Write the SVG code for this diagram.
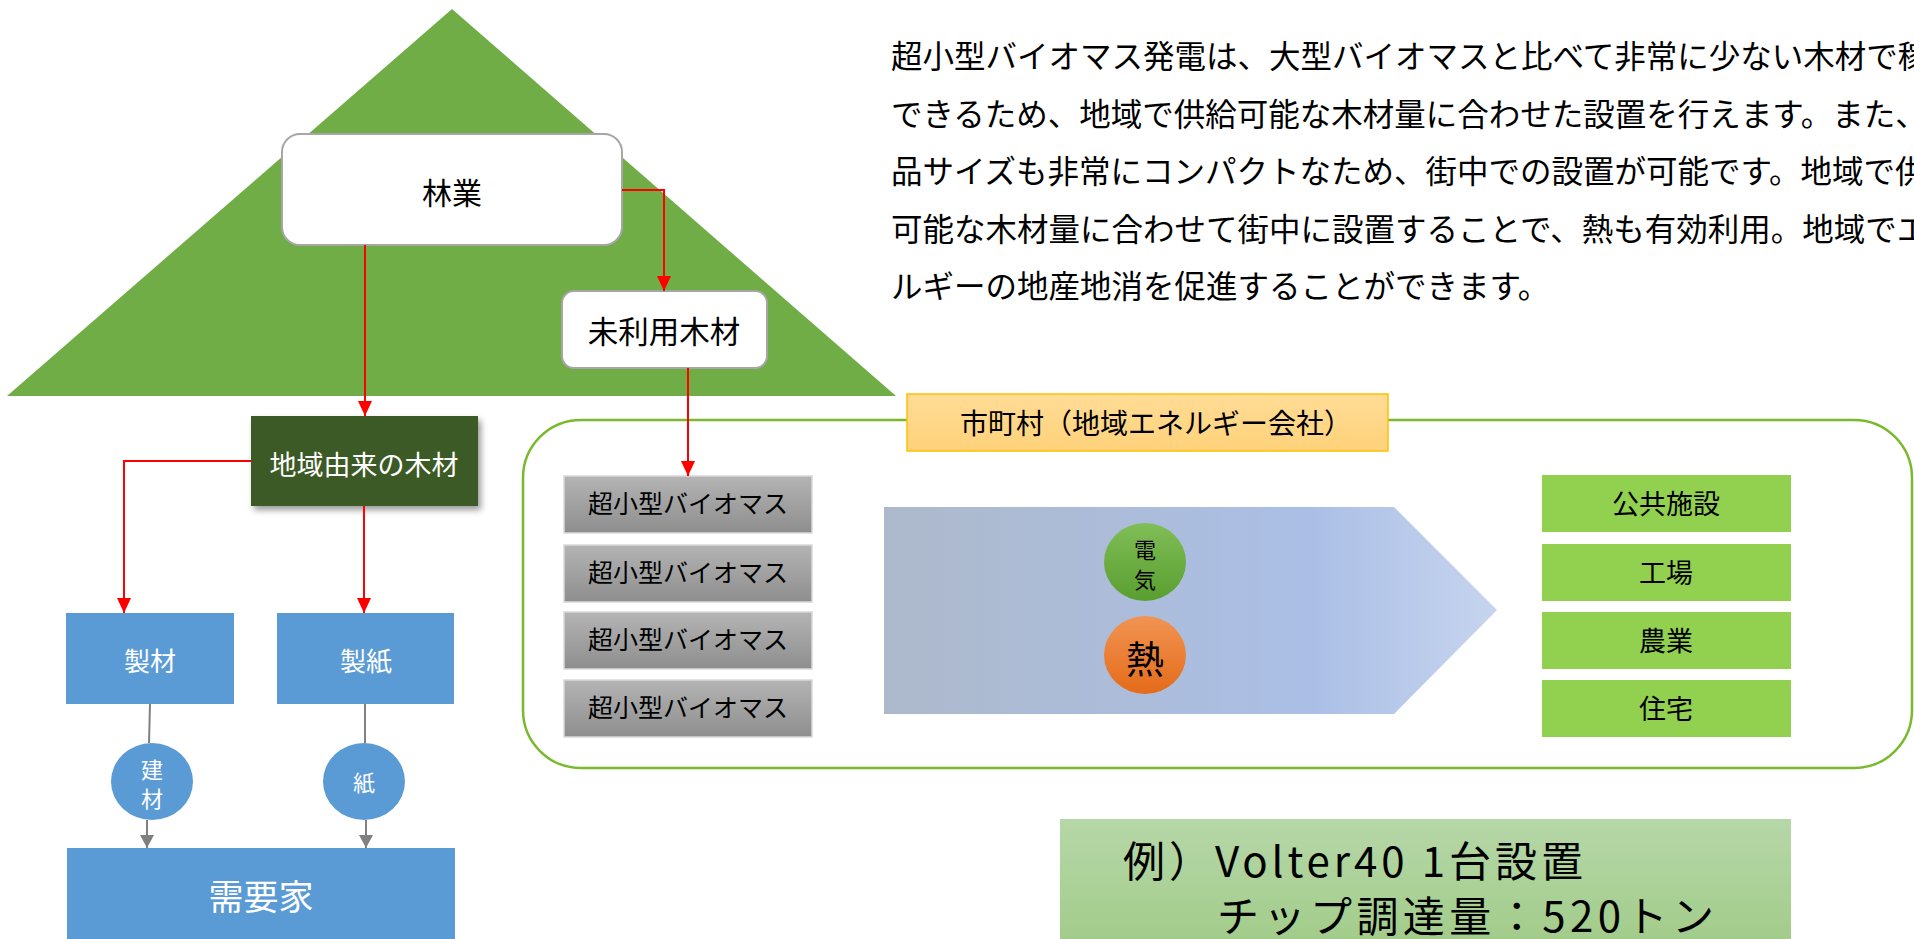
<svg xmlns="http://www.w3.org/2000/svg" width="1914" height="939" viewBox="0 0 1914 939">
<defs>
<style>
text{font-family:"Noto Sans CJK JP","Noto Sans",sans-serif;}
.blk{fill:#000;}
.wht{fill:#fff;}
.red{fill:none;stroke:#FF0000;stroke-width:2;}
.gry{fill:none;stroke:#808080;stroke-width:2;}
.bio{fill:url(#gBio);stroke:#D9D9D9;stroke-width:1.5;}
.out{fill:#92D050;}
.blue{fill:#5B9BD5;}
</style>
<marker id="aRed" markerUnits="userSpaceOnUse" markerWidth="15" markerHeight="14" refX="15" refY="7" orient="auto"><path d="M0,0 L15,7 L0,14 z" fill="#FF0000"/></marker>
<marker id="aGry" markerUnits="userSpaceOnUse" markerWidth="13" markerHeight="14" refX="13" refY="7" orient="auto"><path d="M0,0 L13,7 L0,14 z" fill="#808080"/></marker>
<linearGradient id="gBio" x1="0" y1="0" x2="0" y2="1"><stop offset="0" stop-color="#B4B4B4"/><stop offset="1" stop-color="#8E8E8E"/></linearGradient>
<linearGradient id="gArrow" x1="0" y1="0" x2="1" y2="0"><stop offset="0" stop-color="#ADB9CB"/><stop offset="0.7" stop-color="#ABBFE6"/><stop offset="1" stop-color="#C6D4EE"/></linearGradient>
<linearGradient id="gElec" x1="0" y1="0" x2="0" y2="1"><stop offset="0" stop-color="#80BE57"/><stop offset="1" stop-color="#5A9E2F"/></linearGradient>
<linearGradient id="gHeat" x1="0" y1="0" x2="0" y2="1"><stop offset="0" stop-color="#F19453"/><stop offset="1" stop-color="#E46B19"/></linearGradient>
<linearGradient id="gLabel" x1="0" y1="0" x2="0" y2="1"><stop offset="0" stop-color="#FFDC96"/><stop offset="1" stop-color="#FFD27A"/></linearGradient>
<linearGradient id="gEx" x1="0" y1="0" x2="0" y2="1"><stop offset="0" stop-color="#B6D7A8"/><stop offset="1" stop-color="#A2CC8A"/></linearGradient>
<filter id="shadow" x="-10%" y="-10%" width="130%" height="140%"><feDropShadow dx="3" dy="4" stdDeviation="3" flood-color="#000" flood-opacity="0.4"/></filter>
</defs>

<g id="forest-triangle"><polygon points="452,9 896,396 7,396" fill="#70AD47"/></g>

<g id="paragraph" class="blk" font-size="31.5">
<text x="891" y="68">超小型バイオマス発電は、大型バイオマスと比べて非常に少ない木材で稼</text>
<text x="891" y="125.5">できるため、地域で供給可能な木材量に合わせた設置を行えます。また、</text>
<text x="891" y="183">品サイズも非常にコンパクトなため、街中での設置が可能です。地域で供</text>
<text x="891" y="240.5">可能な木材量に合わせて街中に設置することで、熱も有効利用。地域でエ</text>
<text x="891" y="298">ルギーの地産地消を促進することができます。</text>
</g>

<g id="municipality-container"><rect x="523" y="420" width="1389" height="348" rx="58" ry="58" fill="none" stroke="#7AB92E" stroke-width="2.5"/></g>

<g id="ringyo"><rect x="282" y="134" width="340" height="111" rx="18" ry="18" fill="#fff" stroke="#A6A6A6" stroke-width="2"/><text x="452" y="204" font-size="30" text-anchor="middle" class="blk">林業</text></g>

<g id="miriyou"><rect x="562" y="291" width="205" height="77" rx="12" ry="12" fill="#fff" stroke="#A6A6A6" stroke-width="2"/><text x="664" y="343" font-size="30.5" text-anchor="middle" class="blk">未利用木材</text></g>

<g id="chiiki-mokuzai"><rect x="251" y="416" width="227" height="90" fill="#3A5A26" filter="url(#shadow)"/><text x="364" y="475" font-size="27" text-anchor="middle" class="wht">地域由来の木材</text></g>

<g id="seizai"><rect x="66" y="613" width="168" height="91" class="blue"/><text x="150" y="671" font-size="26" text-anchor="middle" class="wht">製材</text></g>
<g id="seishi"><rect x="277" y="613" width="177" height="91" class="blue"/><text x="366" y="671" font-size="26" text-anchor="middle" class="wht">製紙</text></g>

<g id="kenzai"><ellipse cx="152" cy="781.5" rx="41" ry="38.5" class="blue"/><text x="152" y="778" font-size="22" text-anchor="middle" class="wht">建</text><text x="152" y="807" font-size="22" text-anchor="middle" class="wht">材</text></g>
<g id="kami"><ellipse cx="364" cy="781.5" rx="41" ry="38.5" class="blue"/><text x="364" y="791" font-size="22" text-anchor="middle" class="wht">紙</text></g>

<g id="juyouka"><rect x="67" y="848" width="388" height="96" class="blue"/><text x="261" y="910" font-size="35" text-anchor="middle" class="wht">需要家</text></g>

<g id="label-municipality"><rect x="907" y="394" width="481" height="57" fill="url(#gLabel)" stroke="#FFC000" stroke-width="1.5"/><text x="1156" y="434" font-size="28" text-anchor="middle" class="blk">市町村（地域エネルギー会社）</text></g>

<g id="biomass-1"><rect x="564" y="476" width="248" height="57" class="bio"/><text x="688" y="513" font-size="25" text-anchor="middle" class="blk">超小型バイオマス</text></g>
<g id="biomass-2"><rect x="564" y="545" width="248" height="57" class="bio"/><text x="688" y="582" font-size="25" text-anchor="middle" class="blk">超小型バイオマス</text></g>
<g id="biomass-3"><rect x="564" y="612" width="248" height="57" class="bio"/><text x="688" y="649" font-size="25" text-anchor="middle" class="blk">超小型バイオマス</text></g>
<g id="biomass-4"><rect x="564" y="680" width="248" height="57" class="bio"/><text x="688" y="717" font-size="25" text-anchor="middle" class="blk">超小型バイオマス</text></g>

<g id="energy-arrow"><polygon points="884,507 1394,507 1497,610 1394,714 884,714" fill="url(#gArrow)"/></g>

<g id="denki"><ellipse cx="1145" cy="562" rx="41" ry="39" fill="url(#gElec)"/><text x="1145" y="558" font-size="22" text-anchor="middle" class="blk">電</text><text x="1145" y="588" font-size="22" text-anchor="middle" class="blk">気</text></g>
<g id="netsu"><ellipse cx="1145" cy="655" rx="41" ry="39" fill="url(#gHeat)"/><text x="1145" y="673" font-size="38" text-anchor="middle" class="blk">熱</text></g>

<g id="out-public"><rect x="1542" y="475" width="249" height="57" class="out"/><text x="1666" y="514" font-size="27" text-anchor="middle" class="blk">公共施設</text></g>
<g id="out-factory"><rect x="1542" y="544" width="249" height="57" class="out"/><text x="1666" y="583" font-size="27" text-anchor="middle" class="blk">工場</text></g>
<g id="out-agri"><rect x="1542" y="612" width="249" height="57" class="out"/><text x="1666" y="651" font-size="27" text-anchor="middle" class="blk">農業</text></g>
<g id="out-house"><rect x="1542" y="680" width="249" height="57" class="out"/><text x="1666" y="719" font-size="27" text-anchor="middle" class="blk">住宅</text></g>

<g id="example"><rect x="1060" y="819" width="731" height="125" fill="url(#gEx)"/><text x="1123" y="877" font-size="42" textLength="460" lengthAdjust="spacing" class="blk">例）Volter40 1台設置</text><text x="1217" y="932" font-size="42" textLength="497" lengthAdjust="spacing" class="blk">チップ調達量：520トン</text></g>

<g id="connectors">
<path class="red" d="M365,245 V416" marker-end="url(#aRed)"/>
<path class="red" d="M622,190 H664 V291" marker-end="url(#aRed)"/>
<path class="red" d="M688,368 V476" marker-end="url(#aRed)"/>
<path class="red" d="M251,461 H124 V613" marker-end="url(#aRed)"/>
<path class="red" d="M364,506 V613" marker-end="url(#aRed)"/>
<path class="gry" d="M150,704 L149,743"/>
<path class="gry" d="M147,820 V848" marker-end="url(#aGry)"/>
<path class="gry" d="M365,704 V743"/>
<path class="gry" d="M366,820 V848" marker-end="url(#aGry)"/>
</g>
</svg>
